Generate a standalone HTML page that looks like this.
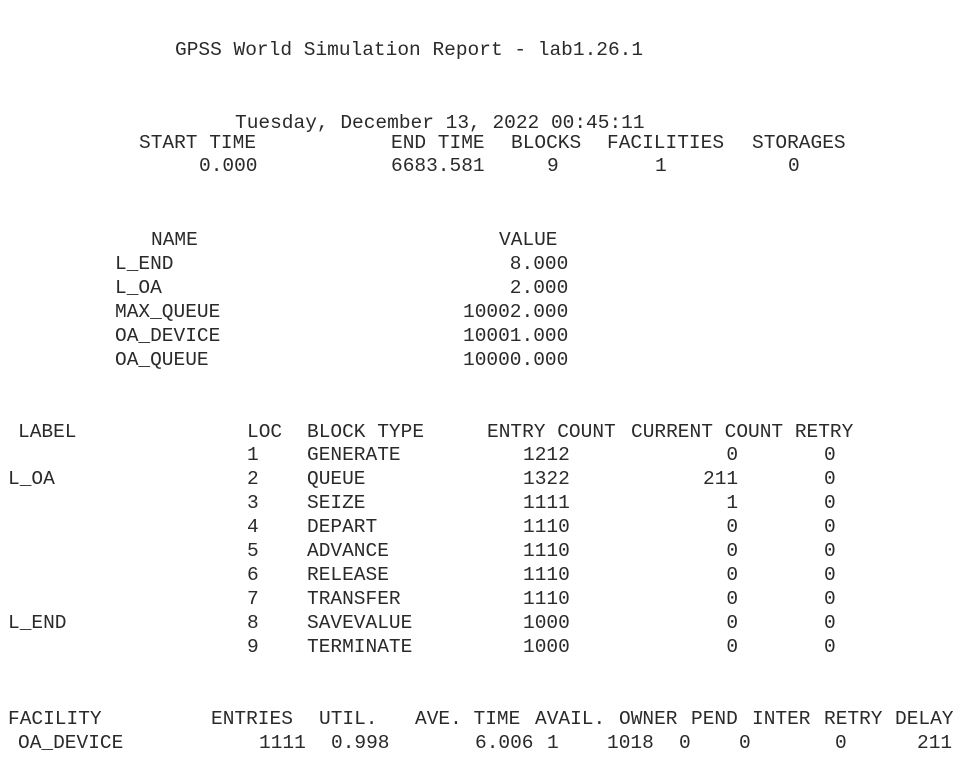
<!DOCTYPE html>
<html><head><meta charset="utf-8"><style>
html,body{margin:0;padding:0;background:#fff;width:979px;height:763px;overflow:hidden}
body{position:relative;font-family:"Liberation Mono","DejaVu Sans Mono",monospace;font-size:19.5px;color:#2a2a2a}
span{position:absolute;white-space:pre;line-height:24px}
</style></head><body>
<span style="left:175px;top:38px">GPSS World Simulation Report - lab1.26.1</span>
<span style="left:235px;top:111px">Tuesday, December 13, 2022 00:45:11</span>

<span style="left:139px;top:131px">START TIME</span>
<span style="left:391px;top:131px">END TIME</span>
<span style="left:511px;top:131px">BLOCKS</span>
<span style="left:607px;top:131px">FACILITIES</span>
<span style="left:752px;top:131px">STORAGES</span>
<span style="left:199px;top:154px">0.000</span>
<span style="left:391px;top:154px">6683.581</span>
<span style="left:547px;top:154px">9</span>
<span style="left:655px;top:154px">1</span>
<span style="left:788px;top:154px">0</span>

<span style="left:151px;top:228px">NAME</span>
<span style="left:499px;top:228px">VALUE</span>
<span style="left:115px;top:252px">L_END
L_OA
MAX_QUEUE
OA_DEVICE
OA_QUEUE</span>
<span style="left:463px;top:252px">    8.000
    2.000
10002.000
10001.000
10000.000</span>

<span style="left:18px;top:420px">LABEL</span>
<span style="left:247px;top:420px">LOC</span>
<span style="left:307px;top:420px">BLOCK TYPE</span>
<span style="left:487px;top:420px">ENTRY COUNT</span>
<span style="left:631px;top:420px">CURRENT COUNT RETRY</span>
<span style="left:8px;top:467px">L_OA</span>
<span style="left:8px;top:611px">L_END</span>
<span style="left:247px;top:443px">1
2
3
4
5
6
7
8
9</span>
<span style="left:307px;top:443px">GENERATE
QUEUE
SEIZE
DEPART
ADVANCE
RELEASE
TRANSFER
SAVEVALUE
TERMINATE</span>
<span style="left:523px;top:443px">1212
1322
1111
1110
1110
1110
1110
1000
1000</span>
<span style="left:703px;top:443px">  0
211
  1
  0
  0
  0
  0
  0
  0</span>
<span style="left:824px;top:443px">0
0
0
0
0
0
0
0
0</span>

<span style="left:8px;top:707px">FACILITY</span>
<span style="left:211px;top:707px">ENTRIES</span>
<span style="left:319px;top:707px">UTIL.</span>
<span style="left:415px;top:707px">AVE. TIME</span>
<span style="left:535px;top:707px">AVAIL.</span>
<span style="left:619px;top:707px">OWNER</span>
<span style="left:691px;top:707px">PEND</span>
<span style="left:752px;top:707px">INTER</span>
<span style="left:824px;top:707px">RETRY</span>
<span style="left:895px;top:707px">DELAY</span>
<span style="left:18px;top:731px">OA_DEVICE</span>
<span style="left:259px;top:731px">1111</span>
<span style="left:331px;top:731px">0.998</span>
<span style="left:475px;top:731px">6.006</span>
<span style="left:547px;top:731px">1</span>
<span style="left:607px;top:731px">1018</span>
<span style="left:679px;top:731px">0</span>
<span style="left:739px;top:731px">0</span>
<span style="left:835px;top:731px">0</span>
<span style="left:917px;top:731px">211</span>
</body></html>
